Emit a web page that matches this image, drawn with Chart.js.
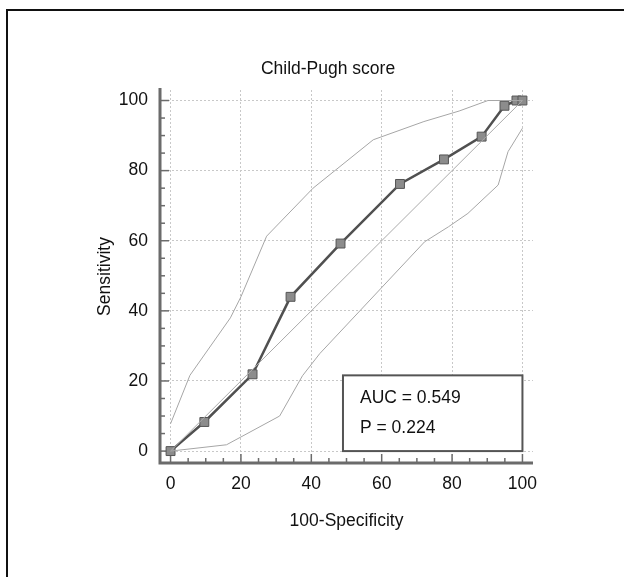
<!DOCTYPE html>
<html>
<head>
<meta charset="utf-8">
<script src="https://cdn.jsdelivr.net/npm/chart.js@4.4.0/dist/chart.umd.min.js"></script>
<style>
  html, body { margin: 0; padding: 0; background: #fff; overflow: hidden; width: 624px; height: 577px; }
  #frame { position: absolute; left: 6px; top: 9px; width: 1000px; height: 1000px; border-top: 2px solid #111; border-left: 2px solid #111; }
  #canvas { position: absolute; left: 32px; top: 0; }
</style>
</head>
<body>
<div id="frame"></div>
<canvas id="canvas" width="592" height="577"></canvas>
<script>
var tickValues = [0, 20, 40, 60, 80, 100];
var rocCurve = [[0, 0], [9.6, 8.3], [23.3, 21.9], [34.1, 44], [48.3, 59.2], [65.2, 76.2], [77.7, 83.2], [88.4, 89.7], [94.9, 98.5], [98.3, 100], [100, 100]];
var upperCI = [[0, 7.8], [5.5, 21.6], [17, 38], [20, 44], [27.3, 61.3], [40.5, 75], [57.6, 88.8], [72, 94], [82, 97], [90.2, 100], [100, 100]];
var lowerCI = [[0, 0], [15.9, 1.8], [31, 10], [37.5, 21.5], [42.4, 27.8], [72.2, 59.7], [79, 64], [84.5, 67.8], [93.1, 75.9], [95.9, 85.4], [100, 92.1]];
var diagonal = [[0, 0], [100, 100]];
var boxLines = ['AUC = 0.549', 'P = 0.224'];

var FONT = 'Liberation Sans, Arial, sans-serif';
var FSIZE = 17.5;

function pts(arr) {
    return arr.map(function(p) { return {x: p[0], y: p[1]}; });
}

// axis lines with inward ticks, and the AUC box
var axesPlugin = {
    id: 'axes',
    beforeDatasetsDraw: function(chart) {
        var ctx = chart.ctx, a = chart.chartArea;
        var xs = chart.scales.x, ys = chart.scales.y;
        ctx.save();
        ctx.strokeStyle = '#6b6b6b';
        ctx.lineWidth = 1.5;
        for (var v = 0; v <= 100; v += 5) {
            var len = v % 20 === 0 ? 9 : 5;
            var px = xs.getPixelForValue(v);
            ctx.beginPath();
            ctx.moveTo(px, a.bottom);
            ctx.lineTo(px, a.bottom - len);
            ctx.stroke();
            var py = ys.getPixelForValue(v);
            ctx.beginPath();
            ctx.moveTo(a.left, py);
            ctx.lineTo(a.left + len, py);
            ctx.stroke();
        }
        ctx.lineWidth = 3;
        ctx.beginPath();
        ctx.moveTo(a.left, a.top - 2);
        ctx.lineTo(a.left, a.bottom);
        ctx.lineTo(a.right, a.bottom);
        ctx.stroke();
        ctx.restore();
    },
    afterDatasetsDraw: function(chart) {
        var ctx = chart.ctx;
        var xs = chart.scales.x, ys = chart.scales.y;
        var l = xs.getPixelForValue(49), r = xs.getPixelForValue(100);
        var t = ys.getPixelForValue(21.6), b = ys.getPixelForValue(0);
        ctx.save();
        ctx.fillStyle = '#fff';
        ctx.fillRect(l, t, r - l, b - t);
        ctx.strokeStyle = '#555';
        ctx.lineWidth = 2;
        ctx.strokeRect(l, t, r - l, b - t);
        ctx.fillStyle = '#111';
        ctx.font = FSIZE + 'px ' + FONT;
        ctx.textBaseline = 'alphabetic';
        boxLines.forEach(function(s, i) {
            ctx.fillText(s, l + 17, t + 28 + i * 30);
        });
        ctx.restore();
    }
};

function fixTicks(scale) {
    scale.ticks = tickValues.map(function(v) { return {value: v}; });
}

var ctx = document.getElementById('canvas').getContext('2d');
window.myChart = new Chart(ctx, {
    type: 'scatter',
    data: {
        datasets: [{
            label: 'Upper CI',
            data: pts(upperCI),
            showLine: true,
            borderColor: '#a6a6a6',
            borderWidth: 1,
            pointRadius: 0
        }, {
            label: 'Lower CI',
            data: pts(lowerCI),
            showLine: true,
            borderColor: '#a6a6a6',
            borderWidth: 1,
            pointRadius: 0
        }, {
            label: 'Reference',
            data: pts(diagonal),
            showLine: true,
            borderColor: '#aaaaaa',
            borderWidth: 1,
            pointRadius: 0
        }, {
            label: 'Child-Pugh score',
            data: pts(rocCurve),
            showLine: true,
            borderColor: '#505050',
            borderWidth: 2.5,
            pointStyle: 'rect',
            pointRadius: 6.3,
            pointBackgroundColor: '#8c8c8c',
            pointBorderColor: '#555',
            pointBorderWidth: 1
        }]
    },
    options: {
        responsive: false,
        animation: false,
        layout: {
            padding: {left: 61, right: 61, top: 50, bottom: 34}
        },
        plugins: {
            legend: {display: false},
            tooltip: {enabled: false},
            title: {
                display: true,
                text: 'Child-Pugh score',
                color: '#111',
                font: {family: FONT, size: FSIZE, weight: 'normal'},
                padding: {top: 9, bottom: 10}
            }
        },
        scales: {
            x: {
                type: 'linear',
                min: -3,
                max: 103,
                afterBuildTicks: fixTicks,
                afterFit: function(s) { s.height = 80; s.paddingLeft = 0; s.paddingRight = 0; },
                grid: {color: '#c8c8c8', lineWidth: 1, drawTicks: false},
                border: {display: false, dash: [2, 2]},
                ticks: {color: '#111', padding: 11, font: {family: FONT, size: FSIZE}},
                title: {
                    display: true,
                    text: '100-Specificity',
                    color: '#111',
                    font: {family: FONT, size: FSIZE},
                    padding: {top: 0, bottom: 11.5}
                }
            },
            y: {
                type: 'linear',
                min: -3.4,
                max: 103,
                afterBuildTicks: fixTicks,
                afterFit: function(s) { s.width = 67; s.paddingTop = 0; s.paddingBottom = 0; },
                grid: {color: '#c8c8c8', lineWidth: 1, drawTicks: false},
                border: {display: false, dash: [2, 2]},
                ticks: {color: '#111', padding: 12, font: {family: FONT, size: FSIZE}},
                title: {
                    display: true,
                    text: 'Sensitivity',
                    color: '#111',
                    font: {family: FONT, size: FSIZE},
                    padding: {top: 1.5, bottom: 0}
                }
            },
            // empty spacer on the right so the title sits where it does in the original
            y2: {
                type: 'linear',
                position: 'right',
                afterFit: function(s) { s.width = 30; s.paddingTop = 0; s.paddingBottom = 0; },
                grid: {display: false, drawTicks: false},
                border: {display: false},
                ticks: {display: false}
            }
        }
    },
    plugins: [axesPlugin]
});
</script>
</body>
</html>
